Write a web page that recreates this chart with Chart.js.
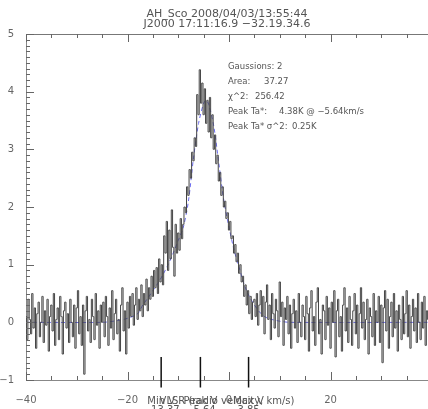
<!DOCTYPE html>
<html lang="en">
<head>
<meta charset="UTF-8" />
<title>AH_Sco spectrum</title>
<script src="https://cdn.jsdelivr.net/npm/chart.js@4"></script>
<style>
  * { margin: 0; padding: 0; box-sizing: border-box; }
  body { background: #fff; width: 428px; height: 409px; overflow: hidden; }
  canvas { display: block; }
</style>
</head>
<body>
<canvas id="spec" width="428" height="409"></canvas>
<script>
// channel grid (km/s)
const velStart = -40.0;
const velStep = 0.25;

// antenna temperature per channel (K); one row = 5 km/s
const taData = [
  0.1,-0.3,0.4,0.05,-0.2,0.5,-0.1,0.25,-0.45,0.15,0.35,-0.25,0.0,0.45,-0.35,0.2,-0.05,0.4,-0.5,0.1,
  0.3,-0.15,0.5,-0.4,0.05,0.25,-0.3,0.45,0.1,-0.55,0.2,0.35,-0.1,0.15,-0.35,0.4,0.0,-0.25,0.3,-0.45,
  0.25,0.55,-0.2,0.1,-0.4,0.3,-0.9,0.2,0.45,-0.15,0.05,-0.35,0.4,0.1,-0.3,0.5,-0.05,0.2,-0.45,0.3,
  0.0,0.35,-0.25,0.45,0.1,-0.4,0.25,-0.1,0.55,-0.3,0.15,0.4,-0.2,0.05,-0.5,0.3,0.6,-0.15,0.2,-0.55,
  0.35,-0.1,0.45,0.1,0.5,-0.05,0.3,0.6,0.05,0.4,0.2,0.65,0.1,0.5,0.3,0.75,0.2,0.6,0.4,0.8,
  0.45,0.9,0.6,0.95,0.5,1.1,0.7,1.0,0.65,1.5,1.2,1.75,0.9,1.6,1.1,1.95,1.3,0.8,1.7,1.2,
  1.55,1.25,1.8,1.45,1.7,2.0,1.9,2.35,2.2,2.65,2.5,2.95,2.8,3.2,3.05,3.95,3.6,4.38,3.8,4.15,
  3.6,4.05,3.45,3.85,3.3,3.9,3.2,3.6,3.0,3.25,2.75,2.9,2.45,2.6,2.2,2.35,2.0,2.1,1.8,1.9,
  1.6,1.75,1.45,1.5,1.2,1.35,1.05,1.2,0.85,1.0,0.7,0.8,0.45,0.65,0.3,0.55,0.15,0.45,0.05,0.35,
  0.4,0.1,0.5,-0.05,0.3,0.55,0.1,0.45,-0.2,0.35,0.65,0.05,0.3,-0.3,0.5,0.15,-0.1,0.4,0.2,-0.25,
  0.7,0.1,0.35,-0.4,0.25,0.05,0.45,-0.2,0.3,-0.45,0.15,0.4,-0.1,0.2,-0.35,0.5,0.0,-0.25,0.3,0.1,
  -0.3,0.45,0.15,-0.5,0.25,0.55,-0.15,0.1,-0.4,0.35,0.6,-0.2,0.05,-0.55,0.3,0.2,-0.3,0.45,-0.05,0.25,
  -0.45,0.35,0.0,0.55,-0.6,0.2,0.4,-0.25,0.1,-0.5,0.3,0.6,-0.15,0.25,-0.35,0.45,0.05,-0.4,0.2,0.5,
  -0.2,0.3,-0.45,0.15,0.6,-0.1,0.35,-0.3,0.05,0.4,-0.55,0.25,0.1,-0.25,0.5,-0.4,0.2,0.0,0.45,-0.35,
  0.3,-0.7,0.25,0.55,-0.15,0.4,-0.45,0.1,0.35,-0.25,0.5,-0.1,0.2,-0.5,0.3,0.05,-0.3,0.45,-0.2,0.15,
  0.55,-0.25,0.3,-0.45,0.1,0.4,-0.15,0.25,-0.35,0.5,0.0,-0.3,0.35,-0.1,0.45,-0.4,0.2,0.05,-0.25,0.3
];

// two-gaussian fit
const fitVel = [-40,-25,-22,-20,-18,-17,-16,-15,-14,-13,-12,-11,-10,-9,-8,-7,-6,-5,-4.5,-4,
                -3,-2,-1,0,1,2,3,4,5,6,7,8,10,12,39.2];
const fitTa  = [0,0,0.03,0.07,0.15,0.3,0.42,0.55,0.68,0.83,1.0,1.2,1.42,1.65,2.1,2.85,3.45,3.8,3.85,3.78,
                3.4,2.75,2.1,1.65,1.25,0.95,0.65,0.45,0.3,0.18,0.1,0.06,0.02,0,0];

// min / peak / max velocity markers
const markerNames = ["Min V", "Peak V", "Max V"];
const markerVel = [-13.37, -5.64, 3.85];

// axis ticks
const xTickVals = [-40, -20, 0, 20];
const xMinorVals = [-40, -35, -30, -25, -20, -15, -10, -5, 0, 5, 10, 15, 20, 25, 30, 35];
const yTickVals = [-1, 0, 1, 2, 3, 4, 5];

const titleLines = ["AH_Sco 2008/04/03/13:55:44", "J2000 17:11:16.9 \u221232.19.34.6"];

const specPoints = taData.map((t, i) => ({ x: velStart + i * velStep, y: t }));
const fitPoints = fitVel.map((v, i) => ({ x: v, y: fitTa[i] }));

const GRAY = "#666";
const FONT = "'DejaVu Sans', sans-serif";

function drawSeg(ctx, x1, y1, x2, y2) {
  ctx.beginPath();
  ctx.moveTo(x1, y1);
  ctx.lineTo(x2, y2);
  ctx.stroke();
}

// IDL-style box: top border plus inward ticks, markers and all the text
const idlFrame = {
  id: "idlFrame",
  afterDraw(chart) {
    const ctx = chart.ctx;
    const a = chart.chartArea;
    const xs = chart.scales.x;
    const ys = chart.scales.y;
    ctx.save();
    ctx.setLineDash([]);
    ctx.lineWidth = 1;
    ctx.strokeStyle = "#777";
    drawSeg(ctx, a.left, a.top + 0.5, a.right, a.top + 0.5);

    ctx.strokeStyle = "#666";
    xMinorVals.forEach(v => {
      const px = Math.round(xs.getPixelForValue(v)) + 0.5;
      const len = xTickVals.includes(v) ? 8 : 4;
      drawSeg(ctx, px, a.bottom, px, a.bottom - len);
      drawSeg(ctx, px, a.top, px, a.top + len);
    });
    for (let k = -10; k <= 50; k++) {
      const py = Math.round(ys.getPixelForValue(k / 10)) + 0.5;
      const len = k % 10 === 0 ? 8 : 4;
      drawSeg(ctx, a.left, py, a.left + len, py);
    }

    // velocity markers
    ctx.strokeStyle = "#111";
    ctx.lineWidth = 1.5;
    markerVel.forEach(v => {
      const px = xs.getPixelForValue(v);
      drawSeg(ctx, px, ys.getPixelForValue(-0.6), px, ys.getPixelForValue(-1.13));
    });

    // titles
    ctx.fillStyle = "#555";
    ctx.textAlign = "center";
    ctx.textBaseline = "middle";
    ctx.font = "11px " + FONT;
    const cx = (a.left + a.right) / 2;
    ctx.fillText(titleLines[0], cx, 14);
    ctx.fillText(titleLines[1], cx, 24);

    // axis title and marker labels (overlapping, as in the original)
    ctx.font = "10px " + FONT;
    ctx.fillText("VLSR (radio velocity, km/s)", cx, 401);
    markerVel.forEach((v, i) => {
      const px = xs.getPixelForValue(v);
      ctx.fillText(markerNames[i], px, 401);
      ctx.fillText(v.toFixed(2).replace("-", "\u2212"), px, 410);
    });

    // fit summary
    ctx.font = "8.5px " + FONT;
    ctx.textAlign = "left";
    ctx.fillText("Gaussions: 2", 228, 67);
    ctx.fillText("Area:", 228, 82);
    ctx.fillText("37.27", 264, 82);
    ctx.fillText("\u03C7^2:", 228, 97);
    ctx.fillText("256.42", 255, 97);
    ctx.fillText("Peak Ta*:", 228, 112);
    ctx.fillText("4.38K @ \u22125.64km/s", 279, 112);
    ctx.fillText("Peak Ta* \u03C3^2:", 228, 127);
    ctx.fillText("0.25K", 292, 127);
    ctx.restore();
  }
};

new Chart(document.getElementById("spec"), {
  type: "line",
  data: {
    datasets: [
      {
        label: "fit",
        data: fitPoints,
        borderColor: "#6b6bf0",
        borderWidth: 1,
        borderDash: [4, 3],
        pointRadius: 0,
        tension: 0.3,
        order: 2
      },
      {
        label: "spectrum",
        data: specPoints,
        borderColor: "#444",
        borderWidth: 1,
        stepped: "middle",
        pointRadius: 0,
        order: 1
      }
    ]
  },
  options: {
    responsive: false,
    animation: false,
    devicePixelRatio: 1,
    layout: { padding: { top: 34, right: 0, left: 0, bottom: 0 } },
    plugins: { legend: { display: false }, title: { display: false }, tooltip: { enabled: false } },
    scales: {
      x: {
        type: "linear",
        min: -40,
        max: 39.2,
        afterBuildTicks: s => { s.ticks = xTickVals.map(v => ({ value: v })); },
        afterFit: s => { s.height = 29; },
        grid: { display: false },
        border: { color: "#888" },
        ticks: {
          color: GRAY,
          font: { size: 10, family: FONT },
          padding: 6,
          maxRotation: 0,
          callback: v => String(v).replace("-", "\u2212")
        }
      },
      y: {
        min: -1,
        max: 5,
        afterBuildTicks: s => { s.ticks = yTickVals.map(v => ({ value: v })); },
        afterFit: s => { s.width = 26; },
        grid: { display: false },
        border: { color: "#888" },
        ticks: {
          color: GRAY,
          font: { size: 10, family: FONT },
          padding: 4,
          callback: v => String(v).replace("-", "\u2212")
        }
      }
    }
  },
  plugins: [idlFrame]
});
</script>
</body>
</html>
